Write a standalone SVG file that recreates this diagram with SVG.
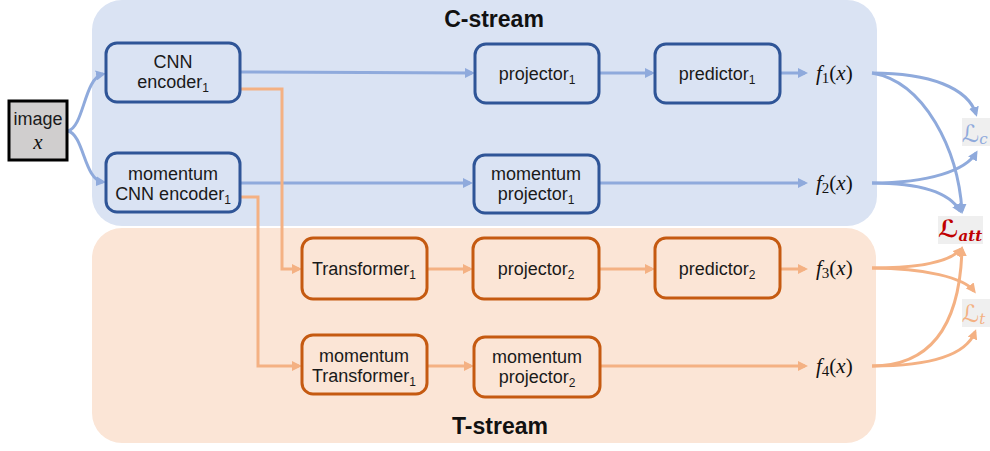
<svg xmlns="http://www.w3.org/2000/svg" width="990" height="451" viewBox="0 0 990 451">
<defs>
<style>
.bgc{fill:#dae3f3}
.bgt{fill:#fbe5d6}
.nb{fill:#dae3f3;stroke:#2f5597;stroke-width:3}
.nt{fill:#fbe5d6;stroke:#c55a11;stroke-width:3}
.lbl{font-family:"Liberation Sans","DejaVu Sans",sans-serif;font-size:18px;fill:#1a1a1a;text-anchor:middle}
.title{font-family:"Liberation Sans","DejaVu Sans",sans-serif;font-size:23px;font-weight:bold;fill:#111;text-anchor:middle}
.math{font-family:"Liberation Serif","DejaVu Serif",serif;font-size:21px;fill:#111}
.cb{fill:none;stroke:#8faadc;stroke-width:3}
.co{fill:none;stroke:#f4b183;stroke-width:3}
.lossbox{fill:#efefef}
.loss{font-family:"DejaVu Serif","DejaVu Sans",serif;font-style:italic;font-size:24px}
</style>
<marker id="ab" viewBox="0 0 10 10" refX="7" refY="5" markerWidth="10" markerHeight="10" markerUnits="userSpaceOnUse" orient="auto"><path d="M0,0 L10,5 L0,10 z" fill="#8faadc"/></marker>
<marker id="ao" viewBox="0 0 10 10" refX="7" refY="5" markerWidth="10" markerHeight="10" markerUnits="userSpaceOnUse" orient="auto"><path d="M0,0 L10,5 L0,10 z" fill="#f4b183"/></marker>
</defs>
<rect width="990" height="451" fill="#ffffff"/>
<g id="c-stream-bg">
<rect class="bgc" x="92" y="0" width="785" height="226" rx="30"/>
<text class="title" x="494" y="27">C-stream</text>
</g>
<g id="t-stream-bg">
<rect class="bgt" x="92" y="228" width="784" height="215" rx="30"/>
<text class="title" x="500" y="434">T-stream</text>
</g>
<g id="connectors">
<path class="cb" d="M68,131 C84,127 84,78 103,74" marker-end="url(#ab)"/>
<path class="cb" d="M68,131 C84,135 84,180 103,182" marker-end="url(#ab)"/>
<path class="cb" d="M240,72 L472,73" marker-end="url(#ab)"/>
<path class="cb" d="M600,73 H652" marker-end="url(#ab)"/>
<path class="cb" d="M780,73 H805" marker-end="url(#ab)"/>
<path class="cb" d="M240,183 H470" marker-end="url(#ab)"/>
<path class="cb" d="M599,183 H805" marker-end="url(#ab)"/>
<path class="co" d="M240,89 H282 V269 H299" marker-end="url(#ao)"/>
<path class="co" d="M240,197 H258 V366 H299" marker-end="url(#ao)"/>
<path class="co" d="M427,269 H470" marker-end="url(#ao)"/>
<path class="co" d="M599,269 H652" marker-end="url(#ao)"/>
<path class="co" d="M780,269 H805" marker-end="url(#ao)"/>
<path class="co" d="M427,366 H471" marker-end="url(#ao)"/>
<path class="co" d="M600,366 H805" marker-end="url(#ao)"/>
<path class="cb" d="M872,73 C930,73 968,88 976,114" marker-end="url(#ab)"/>
<path class="cb" d="M872,73 C925,82 958,150 962,211" marker-end="url(#ab)"/>
<path class="cb" d="M872,183 C930,183 966,170 976,153" marker-end="url(#ab)"/>
<path class="cb" d="M872,183 C922,183 950,193 960,211" marker-end="url(#ab)"/>
<path class="co" d="M872,268 C922,268 950,262 961,249" marker-end="url(#ao)"/>
<path class="co" d="M872,268 C925,268 964,278 974,291" marker-end="url(#ao)"/>
<path class="co" d="M872,366 C935,366 960,320 962,249" marker-end="url(#ao)"/>
<path class="co" d="M872,366 C930,366 966,355 975,332" marker-end="url(#ao)"/>
</g>
<g id="image">
<rect x="9" y="101" width="58" height="59" fill="#d0cece" stroke="#000" stroke-width="3"/>
<text class="lbl" x="38" y="125">image</text>
<text class="math" x="38" y="149" text-anchor="middle" font-style="italic" font-size="20">x</text>
</g>
<g id="cnn-encoder">
<rect class="nb" x="106" y="43" width="134" height="59" rx="11"/>
<text class="lbl" x="173" y="68">CNN</text>
<text class="lbl" x="173" y="88">encoder<tspan font-size="12" dy="4">1</tspan></text>
</g>
<g id="momentum-cnn-encoder">
<rect class="nb" x="106" y="153" width="134" height="59" rx="11"/>
<text class="lbl" x="173" y="180">momentum</text>
<text class="lbl" x="173" y="200">CNN encoder<tspan font-size="12" dy="4">1</tspan></text>
</g>
<g id="projector1">
<rect class="nb" x="475" y="44" width="124" height="59" rx="11"/>
<text class="lbl" x="537" y="80">projector<tspan font-size="12" dy="4">1</tspan></text>
</g>
<g id="predictor1">
<rect class="nb" x="655" y="44" width="125" height="59" rx="11"/>
<text class="lbl" x="717" y="80">predictor<tspan font-size="12" dy="4">1</tspan></text>
</g>
<g id="momentum-projector1">
<rect class="nb" x="474" y="155" width="125" height="58" rx="11"/>
<text class="lbl" x="536" y="180">momentum</text>
<text class="lbl" x="536" y="200">projector<tspan font-size="12" dy="4">1</tspan></text>
</g>
<g id="transformer1">
<rect class="nt" x="302" y="238" width="125" height="61" rx="11"/>
<text class="lbl" x="364" y="275">Transformer<tspan font-size="12" dy="4">1</tspan></text>
</g>
<g id="projector2">
<rect class="nt" x="473" y="238" width="126" height="61" rx="11"/>
<text class="lbl" x="536" y="275">projector<tspan font-size="12" dy="4">2</tspan></text>
</g>
<g id="predictor2">
<rect class="nt" x="655" y="238" width="125" height="60" rx="11"/>
<text class="lbl" x="717" y="275">predictor<tspan font-size="12" dy="4">2</tspan></text>
</g>
<g id="momentum-transformer1">
<rect class="nt" x="302" y="335" width="125" height="59" rx="11"/>
<text class="lbl" x="364" y="362">momentum</text>
<text class="lbl" x="364" y="382">Transformer<tspan font-size="12" dy="4">1</tspan></text>
</g>
<g id="momentum-projector2">
<rect class="nt" x="474" y="337" width="126" height="60" rx="11"/>
<text class="lbl" x="537" y="363">momentum</text>
<text class="lbl" x="537" y="383">projector<tspan font-size="12" dy="4">2</tspan></text>
</g>
<g id="f1">
<text class="math" x="816" y="80"><tspan font-style="italic">f</tspan><tspan font-size="15" dy="3">1</tspan><tspan dy="-3">(</tspan><tspan font-style="italic">x</tspan>)</text>
</g>
<g id="f2">
<text class="math" x="816" y="190"><tspan font-style="italic">f</tspan><tspan font-size="15" dy="3">2</tspan><tspan dy="-3">(</tspan><tspan font-style="italic">x</tspan>)</text>
</g>
<g id="f3">
<text class="math" x="816" y="275"><tspan font-style="italic">f</tspan><tspan font-size="15" dy="3">3</tspan><tspan dy="-3">(</tspan><tspan font-style="italic">x</tspan>)</text>
</g>
<g id="f4">
<text class="math" x="816" y="373"><tspan font-style="italic">f</tspan><tspan font-size="15" dy="3">4</tspan><tspan dy="-3">(</tspan><tspan font-style="italic">x</tspan>)</text>
</g>
<g id="loss-c">
<rect class="lossbox" x="962" y="118" width="28" height="28"/>
<text class="loss" x="962" y="142" fill="#8faadc">ℒ<tspan font-size="15" dy="2">c</tspan></text>
</g>
<g id="loss-att">
<rect class="lossbox" x="938" y="216" width="45" height="28"/>
<text class="loss" x="938" y="237" fill="#c00000" font-weight="bold">ℒ<tspan font-size="15" dy="4">att</tspan></text>
</g>
<g id="loss-t">
<rect class="lossbox" x="962" y="299" width="28" height="28"/>
<text class="loss" x="962" y="322" fill="#f4b183">ℒ<tspan font-size="15" dy="2">t</tspan></text>
</g>
</svg>
